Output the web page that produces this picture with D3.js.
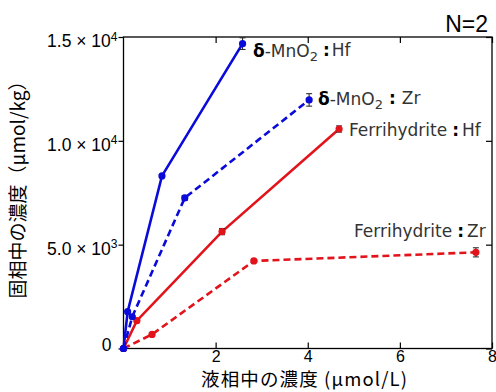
<!DOCTYPE html>
<html><head><meta charset="utf-8">
<script src="https://cdn.jsdelivr.net/npm/d3@7"></script>
<style>body{margin:0;background:#fff}svg{display:block}</style>
</head><body>
<svg id="c" width="496" height="392"></svg>
<script>
// ---- data ----
const seriesNames = ["Ferrihydrite:Zr", "Ferrihydrite:Hf", "δ-MnO2:Zr", "δ-MnO2:Hf"];
const fhZrX = [0, 0.62, 2.83, 7.65];
const fhZrY = [0, 680, 4215, 4630];
const fhZrErr = [0, 60, 80, 220];
const fhHfX = [0, 0.29, 2.14, 4.68];
const fhHfY = [0, 1340, 5630, 10570];
const fhHfErr = [0, 60, 150, 150];
const mnZrX = [0, 0.19, 1.33, 4.03];
const mnZrY = [0, 1530, 7250, 11970];
const mnZrErr = [0, 60, 120, 300];
const mnHfX = [0, 0.09, 0.835, 2.585];
const mnHfY = [0, 1772, 8310, 14680];
const mnHfErr = [0, 60, 60, 280];
const xTicks = [2, 4, 6, 8];
const yTicks = [0, 5000, 10000, 15000];
const yTickMant = ["0", "5.0", "1.0", "1.5"];
const yTickExp = ["", "3", "4", "4"];

const svg = d3.select("#c");
const L = 123.5, R = 492, T = 37, B = 348.5;
const x = d3.scaleLinear().domain([0, 8]).range([L, R]);
const y = d3.scaleLinear().domain([0, 15000]).range([B, T]);

const BLUE = "#0a0ada", RED = "#e2131b";
const series = [
  {xs: fhZrX, ys: fhZrY, es: fhZrErr, color: RED, dash: "7,4"},
  {xs: fhHfX, ys: fhHfY, es: fhHfErr, color: RED, dash: null},
  {xs: mnZrX, ys: mnZrY, es: mnZrErr, color: BLUE, dash: "7,4"},
  {xs: mnHfX, ys: mnHfY, es: mnHfErr, color: BLUE, dash: null}
];

// frame
svg.append("rect").attr("x", L).attr("y", T).attr("width", R - L).attr("height", B - T)
  .attr("fill", "none").attr("stroke", "#000").attr("stroke-width", 1.3);

// axes
const tickFont = "'Liberation Sans', Arial, sans-serif";
const gx = svg.append("g").attr("transform", `translate(0,${B})`)
  .call(d3.axisBottom(x).tickValues(xTicks).tickSizeInner(-6).tickSizeOuter(0).tickPadding(2));
gx.select(".domain").remove();
gx.selectAll("text").attr("font-family", tickFont).attr("font-size", 16).attr("fill", "#000");
gx.selectAll("line").attr("stroke-width", 1.2);

const gxt = svg.append("g").attr("transform", `translate(0,${T})`)
  .call(d3.axisTop(x).tickValues(xTicks).tickSizeInner(-6).tickSizeOuter(0).tickFormat(""));
gxt.select(".domain").remove();
gxt.selectAll("line").attr("stroke-width", 1.2);

const gyr = svg.append("g").attr("transform", `translate(${R},0)`)
  .call(d3.axisRight(y).tickValues(yTicks).tickSizeInner(-6).tickSizeOuter(0).tickFormat(""));
gyr.select(".domain").remove();
gyr.selectAll("line").attr("stroke-width", 1.2);

const gy = svg.append("g").attr("transform", `translate(${L},0)`)
  .call(d3.axisLeft(y).tickValues(yTicks).tickSizeInner(5).tickSizeOuter(0).tickPadding(3).tickFormat(""));
gy.select(".domain").remove();
gy.selectAll("line").attr("stroke-width", 1.2);
gy.selectAll(".tick").each(function(d, i) {
  const t = d3.select(this).append("text")
    .attr("x", i === 0 ? -12 : -6).attr("dy", i === 0 ? "0.12em" : "0.55em")
    .attr("text-anchor", "end").attr("font-family", tickFont).attr("font-size", 17.5).attr("fill", "#000");
  if (yTickExp[i]) {
    t.append("tspan").text(yTickMant[i] + " × 10");
    t.append("tspan").attr("font-size", 12).attr("dy", "-0.55em").text(yTickExp[i]);
  } else {
    t.text(yTickMant[i]);
  }
});

// lines
const line = d3.line().x(d => x(d[0])).y(d => y(d[1]));
series.forEach(s => {
  const pts = s.xs.map((v, i) => [v, s.ys[i], s.es[i]]);
  svg.append("path").datum(pts).attr("d", line).attr("fill", "none")
    .attr("stroke", s.color).attr("stroke-width", 2.6)
    .attr("stroke-dasharray", s.dash);
  const g = svg.append("g");
  pts.forEach(p => {
    if (p[2] > 0) {
      const cx = x(p[0]), y1 = y(p[1] - p[2]), y2 = y(p[1] + p[2]);
      g.append("line").attr("x1", cx).attr("x2", cx).attr("y1", y1).attr("y2", y2).attr("stroke", "#222").attr("stroke-width", 1);
      [y1, y2].forEach(yy => g.append("line").attr("x1", cx - 3).attr("x2", cx + 3).attr("y1", yy).attr("y2", yy).attr("stroke", "#222").attr("stroke-width", 1));
    }
    g.append("circle").attr("cx", x(p[0])).attr("cy", y(p[1])).attr("r", 3.6).attr("fill", s.color);
  });
});

// series labels
const labFont = "'DejaVu Sans', sans-serif";
function label(px, py, parts) {
  const t = svg.append("text").attr("x", px).attr("y", py).attr("font-family", labFont)
    .attr("font-size", 17).attr("fill", "#333");
  parts.forEach(p => {
    const ts = t.append("tspan").text(p.t);
    if (p.b) ts.attr("font-weight", "bold").attr("fill", "#000");
    if (p.sub) ts.attr("font-size", 13).attr("dy", "0.3em");
    if (p.unsub) ts.attr("dy", "-0.3em");
    if (p.dx) ts.attr("dx", p.dx);
  });
}
label(253, 57, [{t: "δ", b: 1}, {t: "-MnO"}, {t: "2", sub: 1}, {t: ":", b: 1, unsub: 1, dx: 5}, {t: "Hf", dx: 2}]);
label(318, 105, [{t: "δ", b: 1}, {t: "-MnO"}, {t: "2", sub: 1}, {t: ":", b: 1, unsub: 1, dx: 6}, {t: "Zr", dx: 6}]);
label(349, 136, [{t: "Ferrihydrite"}, {t: ":", b: 1, dx: 5}, {t: "Hf", dx: 3}]);
label(354, 237, [{t: "Ferrihydrite"}, {t: ":", b: 1, dx: 5}, {t: "Zr", dx: 3}]);

// N=2
svg.append("text").attr("x", 488).attr("y", 32).attr("text-anchor", "end")
  .attr("font-family", tickFont).attr("font-size", 23).attr("fill", "#000").text("N=2");

// axis titles
const cjk = "'Noto Sans CJK JP', 'Noto Sans', sans-serif";
svg.append("text").attr("x", 304).attr("y", 386).attr("text-anchor", "middle")
  .attr("font-family", cjk).attr("font-size", 18.5).attr("fill", "#000")
  .attr("textLength", 206).attr("lengthAdjust", "spacing")
  .text("液相中の濃度 (µmol/L)");
svg.append("text").attr("transform", "translate(25,185) rotate(-90)").attr("text-anchor", "middle")
  .attr("font-family", cjk).attr("font-size", 19).attr("fill", "#000")
  .text("固相中の濃度（µmol/kg）");
</script>
</body></html>
